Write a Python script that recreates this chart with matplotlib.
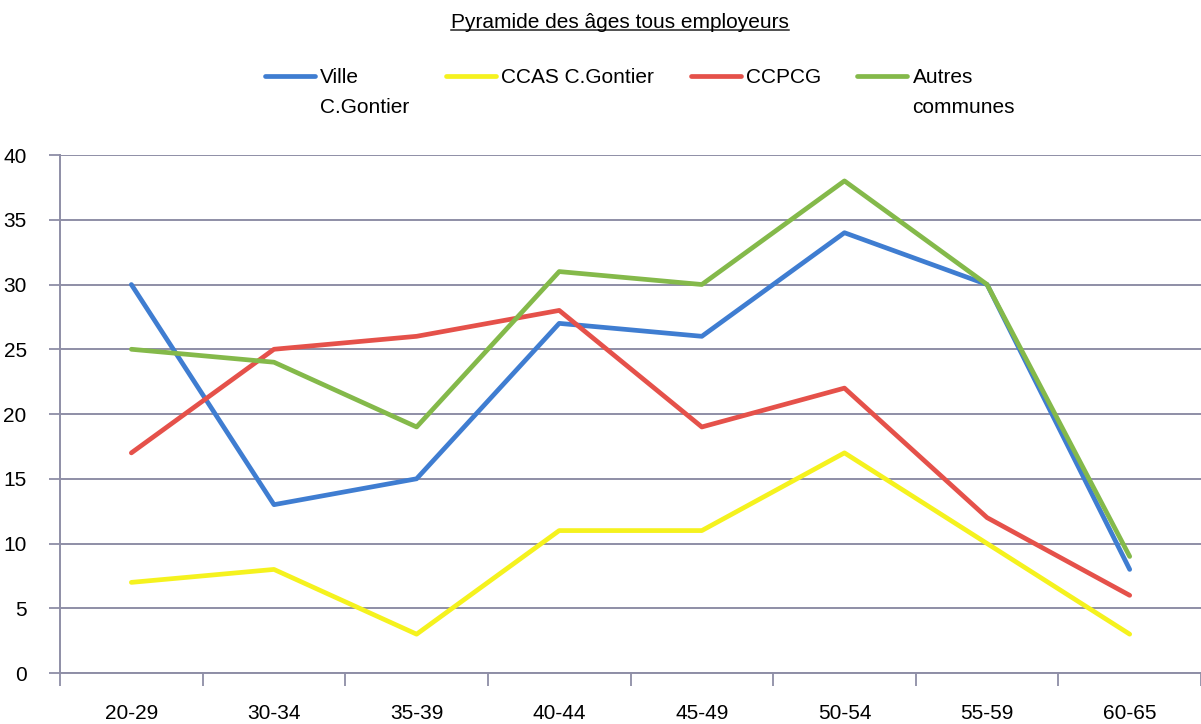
import matplotlib
matplotlib.use("Agg")
import matplotlib.pyplot as plt
import numpy as np
from matplotlib.legend_handler import HandlerLine2D
from matplotlib.lines import Line2D

plt.rcParams['font.family'] = ['Liberation Sans', 'DejaVu Sans']

categories = ['20-29', '30-34', '35-39', '40-44', '45-49', '50-54', '55-59', '60-65']
ville = [30, 13, 15, 27, 26, 34, 30, 8]
ccas = [7, 8, 3, 11, 11, 17, 10, 3]
ccpcg = [17, 25, 26, 28, 19, 22, 12, 6]
autres = [25, 24, 19, 31, 30, 38, 30, 9]

series = [
    ("Ville\nC.Gontier", ville, "#3f7dd1"),
    ("CCAS C.Gontier\n ", ccas, "#f5f21e"),
    ("CCPCG\n ", ccpcg, "#e5514a"),
    ("Autres\ncommunes", autres, "#84b94a"),
]

grid_col = "#8e8ea6"
fs = 15


class RaisedLine(HandlerLine2D):
    # puts the legend line level with the first text row
    def __init__(self, dy, **kw):
        super().__init__(**kw)
        self.dy = dy

    def create_artists(self, legend, orig_handle, xdescent, ydescent,
                       width, height, fontsize, trans):
        arts = super().create_artists(legend, orig_handle, xdescent, ydescent,
                                      width, height, fontsize, trans)
        for a in arts:
            a.set_ydata(np.asarray(a.get_ydata(), dtype=float) + self.dy)
        return arts


fig = plt.figure(figsize=(12.01, 7.24), dpi=100)
ax = fig.add_axes([0.05, 0.0704, 0.95, 0.7155])

x = np.arange(len(categories))
lines = []
for label, vals, col in series:
    ln, = ax.plot(x, vals, color=col, lw=3.4, solid_capstyle='round',
                  solid_joinstyle='round', label=label)
    lines.append(ln)

ax.set_xlim(-0.5, len(categories) - 0.5)
ax.set_ylim(0, 40)
ax.set_yticks(np.arange(0, 41, 5))
ax.set_xticks(x)
ax.set_xticklabels(categories, fontsize=fs)
ax.set_xticks(np.arange(-0.5, len(categories), 1), minor=True)
ax.tick_params(axis='x', which='major', length=0, pad=22)
ax.tick_params(axis='x', which='minor', length=9, width=1.3, color=grid_col)
ax.tick_params(axis='y', length=8, width=1.3, color=grid_col, labelsize=fs, pad=16)
ax.grid(axis='y', color=grid_col, lw=1.4)
ax.set_axisbelow(True)
for s in ['top', 'right']:
    ax.spines[s].set_visible(False)
for s in ['left', 'bottom']:
    ax.spines[s].set_color(grid_col)
    ax.spines[s].set_linewidth(1.4)

leg = fig.legend(handles=lines, loc='center', bbox_to_anchor=(0.533, 0.872),
                 ncol=4, frameon=False, fontsize=fs, handlelength=2.4,
                 handletextpad=0.25, columnspacing=1.75,
                 handler_map={Line2D: RaisedLine(12.5)})
for t in leg.get_texts():
    t.set_linespacing(1.75)

title = fig.text(0.516, 1 - 22 / 724, "Pyramide des âges tous employeurs",
                 ha='center', va='center', fontsize=fs)

# underline the title
fig.canvas.draw()
bb = title.get_window_extent().transformed(fig.transFigure.inverted())
fig.add_artist(Line2D([bb.x0, bb.x1], [bb.y0 + 0.002, bb.y0 + 0.002],
                      transform=fig.transFigure, color='#222222', lw=1.1))

fig.savefig("out.png", dpi=100, facecolor='white')
